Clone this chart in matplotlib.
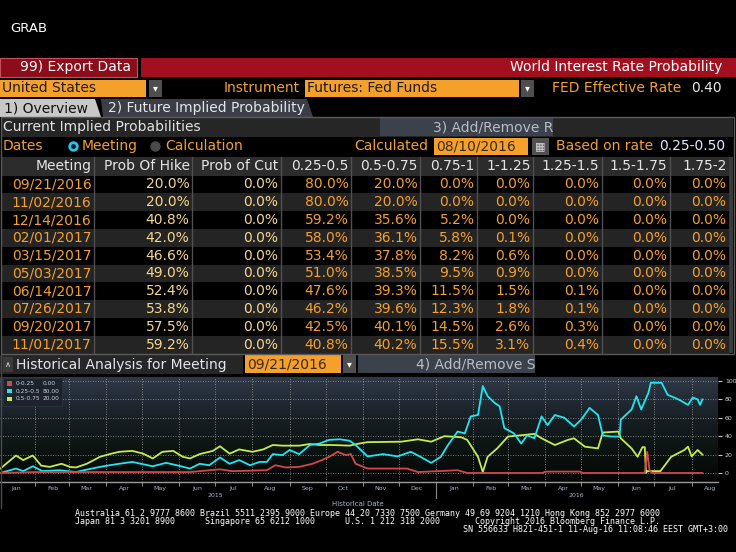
import matplotlib
matplotlib.use('Agg')
import matplotlib.pyplot as plt
import matplotlib.dates as mdates
import matplotlib.transforms as mtransforms
import numpy as np
import pandas as pd
from matplotlib.patches import Rectangle, Polygon
from matplotlib.lines import Line2D
from matplotlib.colors import LinearSegmentedColormap

# current implied probabilities, calculated 08/10/2016
meetings = ['09/21/2016', '11/02/2016', '12/14/2016', '02/01/2017', '03/15/2017',
            '05/03/2017', '06/14/2017', '07/26/2017', '09/20/2017', '11/01/2017']
col_heads = ['Meeting', 'Prob Of Hike', 'Prob of Cut', '0.25-0.5', '0.5-0.75',
             '0.75-1', '1-1.25', '1.25-1.5', '1.5-1.75', '1.75-2']
prob_hike = [20.0, 20.0, 40.8, 42.0, 46.6, 49.0, 52.4, 53.8, 57.5, 59.2]
prob_cut = [0.0, 0.0, 0.0, 0.0, 0.0, 0.0, 0.0, 0.0, 0.0, 0.0]
p_025_05 = [80.0, 80.0, 59.2, 58.0, 53.4, 51.0, 47.6, 46.2, 42.5, 40.8]
p_05_075 = [20.0, 20.0, 35.6, 36.1, 37.8, 38.5, 39.3, 39.6, 40.1, 40.2]
p_075_1 = [0.0, 0.0, 5.2, 5.8, 8.2, 9.5, 11.5, 12.3, 14.5, 15.5]
p_1_125 = [0.0, 0.0, 0.0, 0.1, 0.6, 0.9, 1.5, 1.8, 2.6, 3.1]
p_125_15 = [0.0, 0.0, 0.0, 0.0, 0.0, 0.0, 0.1, 0.1, 0.3, 0.4]
p_15_175 = [0.0, 0.0, 0.0, 0.0, 0.0, 0.0, 0.0, 0.0, 0.0, 0.0]
p_175_2 = [0.0, 0.0, 0.0, 0.0, 0.0, 0.0, 0.0, 0.0, 0.0, 0.0]

# historical analysis for meeting 09/21/2016
red_dates = ['2015-01-03', '2015-02-01', '2015-06-10', '2015-07-05', '2015-07-15',
             '2015-08-13', '2015-08-20', '2015-08-29', '2015-09-09', '2015-09-20',
             '2015-09-28', '2015-10-04', '2015-10-11', '2015-10-18', '2015-10-22',
             '2015-10-26', '2015-11-05', '2015-12-08', '2015-12-17', '2016-01-19',
             '2016-01-27', '2016-03-30', '2016-04-01', '2016-04-30', '2016-05-02',
             '2016-06-23', '2016-06-25', '2016-06-27', '2016-06-29', '2016-08-10']
red_vals = [0, 1, 1, 4, 2, 3, 8.4, 6, 6.6, 10, 14, 17.6, 23, 19.4, 20.5,
            10, 4.8, 4.8, 1, 3, 0, 0, 1.5, 1.5, 0, 0, 23, 3, 0, 0]

cyan_dates = ['2015-01-03', '2015-01-16', '2015-01-22', '2015-01-30', '2015-02-07',
              '2015-02-21', '2015-03-07', '2015-03-16', '2015-03-27', '2015-04-04',
              '2015-04-12', '2015-04-23', '2015-05-02', '2015-05-10', '2015-05-21',
              '2015-05-30', '2015-06-10', '2015-06-18', '2015-06-26', '2015-07-05',
              '2015-07-13', '2015-07-21', '2015-07-30', '2015-08-07', '2015-08-13',
              '2015-08-18', '2015-08-26', '2015-09-01', '2015-09-09', '2015-09-18',
              '2015-09-26', '2015-10-04', '2015-10-13', '2015-10-21', '2015-10-26',
              '2015-11-05', '2015-11-18', '2015-11-30', '2015-12-11', '2015-12-19',
              '2015-12-28', '2016-01-05', '2016-01-11', '2016-01-19', '2016-01-25',
              '2016-01-30', '2016-02-05', '2016-02-09', '2016-02-13', '2016-02-19',
              '2016-02-23', '2016-02-27', '2016-03-06', '2016-03-12', '2016-03-17',
              '2016-03-23', '2016-03-29', '2016-04-03', '2016-04-09', '2016-04-17',
              '2016-04-25', '2016-05-01', '2016-05-08', '2016-05-15', '2016-05-19',
              '2016-05-26', '2016-06-02', '2016-06-03', '2016-06-12', '2016-06-16',
              '2016-06-20', '2016-06-26', '2016-06-28', '2016-07-07', '2016-07-12',
              '2016-07-21', '2016-07-29', '2016-08-02', '2016-08-06', '2016-08-08',
              '2016-08-10']
cyan_vals = [0, 4.8, 2, 7.3, 2, 3, 1, 3.7, 6.6, 8.4,
             10, 12, 9.5, 7.3, 11, 8.4, 4.8, 10, 8.4, 16.8,
             10, 14, 8.4, 12, 12, 20.5, 19.4, 25, 20.5, 30.4,
             32, 36, 36.6, 35, 30.4, 18, 20.5, 18, 23, 17.6,
             11, 17.6, 30.4, 45, 43, 61.5, 63, 94.5, 83.5, 76,
             72.5, 48.7, 43, 32, 41, 37.7, 61.5, 52, 63, 60,
             50.5, 58, 70.7, 63, 41, 39.6, 39.6, 58, 69, 83.5,
             69, 87, 98, 98, 85, 80, 74, 82, 80, 74, 80]

green_dates = ['2015-01-03', '2015-01-16', '2015-01-22', '2015-01-30', '2015-02-06',
               '2015-02-13', '2015-02-23', '2015-03-02', '2015-03-07', '2015-03-16',
               '2015-03-27', '2015-04-04', '2015-04-12', '2015-04-23', '2015-05-02',
               '2015-05-10', '2015-05-18', '2015-05-27', '2015-06-04', '2015-06-10',
               '2015-06-18', '2015-06-29', '2015-07-05', '2015-07-13', '2015-07-21',
               '2015-08-01', '2015-08-10', '2015-08-18', '2015-08-26', '2015-09-09',
               '2015-09-18', '2015-09-26', '2015-10-07', '2015-10-21', '2015-10-29',
               '2015-11-05', '2015-12-03', '2015-12-17', '2015-12-28', '2016-01-08',
               '2016-01-22', '2016-01-27', '2016-02-05', '2016-02-09', '2016-02-13',
               '2016-02-21', '2016-03-01', '2016-03-12', '2016-03-23', '2016-03-29',
               '2016-04-09', '2016-04-20', '2016-04-25', '2016-05-04', '2016-05-15',
               '2016-05-19', '2016-06-01', '2016-06-03', '2016-06-12', '2016-06-17',
               '2016-06-21', '2016-06-23', '2016-06-24', '2016-06-25', '2016-07-06',
               '2016-07-15', '2016-07-26', '2016-07-29', '2016-08-01', '2016-08-06',
               '2016-08-10']
green_vals = [4.8, 19, 14, 19, 8, 6.6, 10, 6.6, 6, 10,
              17.6, 20.5, 23, 24, 21, 15.8, 23, 24, 17.6, 15.8,
              20.5, 24, 29, 21, 25.6, 23, 25.6, 30.4, 29.7, 29.7,
              31.5, 30.4, 30.4, 29.7, 32, 33.5, 34, 36.6, 34, 40,
              38.8, 36, 17.6, 1, 17.6, 26.7, 39.6, 41, 42.5, 37.7,
              30.4, 36, 37.7, 28.6, 26.7, 44, 45, 37.7, 26.7, 17.6,
              28, 28, 0, 2, 2, 17.6, 25, 28.6, 18, 25, 20]

ORANGE = '#f5a02a'
PALE = '#f6d68c'
W, H = 736, 552
FS = 10

fig = plt.figure(figsize=(W / 100, H / 100), dpi=100, facecolor='black')


def fx(x):
    return x / W


def fy(y):
    return 1 - y / H


def box(x0, y0, x1, y1, fc, ec='none', lw=0, z=1):
    fig.add_artist(Rectangle((fx(x0), fy(y1)), (x1 - x0) / W, (y1 - y0) / H,
                             transform=fig.transFigure, facecolor=fc,
                             edgecolor=ec, linewidth=lw, zorder=z))


def txt(x, y, s, color, size=FS, ha='left', family='DejaVu Sans', z=3):
    fig.text(fx(x), fy(y), s, color=color, fontsize=size, ha=ha,
             va='center', family=family, zorder=z)


def line(x0, y0, x1, y1, color, lw=1.0, z=2):
    fig.add_artist(Line2D([fx(x0), fx(x1)], [fy(y0), fy(y1)], color=color,
                          lw=lw, transform=fig.transFigure, zorder=z))


def dropdown(x0, y0, x1, y1):
    box(x0, y0, x1, y1, '#4e4e4e')
    txt((x0 + x1) / 2, (y0 + y1) / 2, '\u25be', 'white', size=7, ha='center')


txt(10, 28, 'GRAB', 'white', size=9.5)

# red title bar
box(0, 58, 736, 77, '#a2101f')
box(137, 58, 141, 77, 'black')
box(0, 58, 137, 77, '#8c0c19', ec='#c8505e', lw=0.8)
txt(20, 67.5, '99) Export Data', 'white')
txt(722, 67.5, 'World Interest Rate Probability', 'white', ha='right')

# selector row
box(0, 80, 146, 97, ORANGE)
txt(2, 88.5, 'United States', '#1a1a1a')
dropdown(149, 80, 162, 97)
txt(300, 88.5, 'Instrument', ORANGE, ha='right')
box(305, 80, 519, 97, ORANGE)
txt(307, 88.5, 'Futures: Fed Funds', '#1a1a1a')
dropdown(521, 80, 534, 97)
txt(552, 88.5, 'FED Effective Rate', ORANGE)
txt(722, 88.5, '0.40', '#e8e8e8', ha='right')

# tabs
fig.add_artist(Polygon([(fx(0), fy(99)), (fx(95), fy(99)), (fx(101), fy(117)), (fx(0), fy(117))],
                       closed=True, transform=fig.transFigure, facecolor='#c8c8c8', edgecolor='none'))
fig.add_artist(Polygon([(fx(101), fy(99)), (fx(307), fy(99)), (fx(313), fy(117)), (fx(103), fy(117))],
                       closed=True, transform=fig.transFigure, facecolor='#3b3e46', edgecolor='none'))
txt(4, 108, '1) Overview', '#111111')
txt(108, 108, '2) Future Implied Probability', '#e4e4e4')

# table panel
box(0.5, 117, 733.5, 354, 'none', ec='#5a5a5a', lw=1.0, z=2)
box(1, 118, 733, 137, '#262626')
txt(3, 127.5, 'Current Implied Probabilities', '#e2e2e2')
box(380, 118, 553, 136, '#3c424c')
txt(553, 127.5, '3) Add/Remove R', '#b8bcc4', ha='right')

txt(3, 146.5, 'Dates', ORANGE)
fig.add_artist(Line2D([fx(73)], [fy(146)], marker='o', ms=5.5, mfc='#111111', mec='#25c4f0',
                      mew=2, transform=fig.transFigure))
txt(82, 146, 'Meeting', ORANGE)
fig.add_artist(Line2D([fx(155)], [fy(146)], marker='o', ms=6.5, mfc='#4a4a4a', mec='#4a4a4a',
                      transform=fig.transFigure))
txt(165, 146, 'Calculation', ORANGE)
txt(428, 146.5, 'Calculated', ORANGE, ha='right')
box(434, 138, 528, 155, ORANGE)
txt(436, 146.5, '08/10/2016', '#3a2a12')
box(532, 138, 549, 155, '#505050')
txt(540.5, 146.5, '\u25a6', '#d8d8d8', size=8, ha='center')
txt(556, 146.5, 'Based on rate', ORANGE)
txt(725, 146.5, '0.25-0.50', '#dfe9ff', ha='right')

# table grid
seps = [94, 192, 281, 351, 420, 477, 533, 602, 670, 729]
row_top, row_h = 175.5, 17.8
box(1, 157, 729, 175.5, '#2c2c2c')
for i in range(len(meetings)):
    if i % 2 == 1:
        box(1, row_top + i * row_h, 729, row_top + (i + 1) * row_h, '#242424')
for s in seps[:-1]:
    line(s, 157, s, 353, '#505050', lw=1.0)
box(729, 157, 733, 353, '#3a3a3a')
for j, head in enumerate(col_heads):
    txt(seps[j] - 2.5, 166, head, '#e4e4e4', ha='right')

columns = [prob_hike, prob_cut, p_025_05, p_05_075, p_075_1, p_1_125, p_125_15, p_15_175, p_175_2]
for i, m in enumerate(meetings):
    yc = row_top + (i + 0.5) * row_h
    txt(seps[0] - 2.5, yc, m, ORANGE, ha='right')
    for j, col in enumerate(columns):
        color = PALE if j < 2 else ORANGE
        txt(seps[j + 1] - 2.5, yc, f'{col[i]:.1f}%', color, ha='right')

# historical analysis header
box(0, 355, 243, 374, '#262626')
box(3, 357, 13, 372, '#3a3a3a')
txt(8, 364.5, '\u2227', '#e0e0e0', size=6, ha='center')
txt(16, 364.5, 'Historical Analysis for Meeting', '#dfe6ee')
box(245, 355, 341, 373, ORANGE)
txt(247, 364.5, meetings[0], '#3a2a12')
dropdown(343, 355, 356, 373)
box(358, 355, 535, 373, '#3c424c')
txt(535, 364.5, '4) Add/Remove S', '#b8bcc4', ha='right')
line(0.5, 355, 0.5, 508, '#4a4a4a', lw=1.0)

# chart
ax = fig.add_axes([0, 1 - 482 / H, 718 / W, 105 / H])
cmap = LinearSegmentedColormap.from_list('bbg', [(0, '#2f3947'), (0.45, '#141c20'),
                                                 (0.75, '#0a110e'), (1, '#050505')])
ax.imshow(np.linspace(0, 1, 256).reshape(-1, 1), aspect='auto', cmap=cmap,
          extent=[0, 1, 0, 1], transform=ax.transAxes, zorder=0)

gd = pd.to_datetime(green_dates)
cd = pd.to_datetime(cyan_dates)
rd = pd.to_datetime(red_dates)
ax.plot(gd, green_vals, color='#c4ee46', lw=1.3, zorder=3)
ax.plot(cd, cyan_vals, color='#1ee6f2', lw=1.3, zorder=4)
ax.plot(rd, red_vals, color='#d24848', lw=1.3, zorder=5)

start = pd.Timestamp('2015-01-01') + pd.Timedelta(days=1.67)
end = pd.Timestamp('2015-01-01') + pd.Timedelta(days=600)
ax.set_xlim(start, end)
ax.set_ylim(-9.8, 104.3)

ax.xaxis.set_major_locator(mdates.MonthLocator())
ax.xaxis.set_major_formatter(plt.NullFormatter())
ax.xaxis.set_minor_locator(mdates.MonthLocator(bymonthday=16))
ax.xaxis.set_minor_formatter(mdates.DateFormatter('%b'))
ax.tick_params(axis='x', which='major', length=3, color='#8a8a8a', width=0.8)
ax.tick_params(axis='x', which='minor', length=0, labelsize=4.5, labelcolor='#a8b4c8', pad=3)
ax.yaxis.tick_right()
ax.set_yticks(range(0, 101, 20))
ax.tick_params(axis='y', length=3, color='#c8c8c8', width=0.8, labelsize=4.5,
               labelcolor='#d4d4d4', pad=2)
ax.grid(True, which='major', color='#a0a0a0', lw=0.6, ls=(0, (1, 2)))
for side in ['top', 'left', 'right']:
    ax.spines[side].set_visible(False)
ax.spines['bottom'].set_color('#9a9a9a')
ax.spines['bottom'].set_linewidth(1.0)

trans = mtransforms.blended_transform_factory(ax.transData, ax.transAxes)
for label, mid in [('2015', '2015-07-01'), ('2016', '2016-04-27')]:
    ax.text(mdates.date2num(pd.Timestamp(mid)), -0.125, label, transform=trans,
            ha='center', va='center', fontsize=4.5, color='#a8b4c8', clip_on=False)
jan16 = mdates.date2num(pd.Timestamp('2016-01-01'))
ax.add_line(Line2D([jan16, jan16], [-0.04, -0.15], transform=trans, color='#8a8a8a',
                   lw=0.8, clip_on=False))
txt(358, 504, 'Historical Date', '#a8b4c8', size=5, ha='center')

# legend box
box(3, 378, 62, 406, '#1c232c', ec='#2c3440', lw=0.6, z=6)
legend = [('0-0.25', red_vals[-1], '#d24848'), ('0.25-0.5', cyan_vals[-1], '#1ee6f2'),
          ('0.5-0.75', green_vals[-1], '#c4ee46')]
for k, (name, val, col) in enumerate(legend):
    yy = 383.3 + k * 7.8
    box(7, yy - 2.3, 11.5, yy + 2.3, col, z=7)
    txt(16, yy, name, '#c8d0dc', size=4.2, z=8)
    txt(43, yy, f'{val:.2f}', '#c8d0dc', size=4.2, z=8)

# footer
mono = 'DejaVu Sans Mono'
txt(75, 513, 'Australia 61 2 9777 8600 Brazil 5511 2395 9000 Europe 44 20 7330 7500 '
    'Germany 49 69 9204 1210 Hong Kong 852 2977 6000', 'white', size=6, family=mono)
txt(75, 521, 'Japan 81 3 3201 8900      Singapore 65 6212 1000      U.S. 1 212 318 2000'
    '       Copyright 2016 Bloomberg Finance L.P.', 'white', size=6, family=mono)
txt(728, 529, 'SN 556633 H821-451-1 11-Aug-16 11:08:46 EEST GMT+3:00', 'white',
    size=6, ha='right', family=mono)

fig.savefig('out.png', dpi=100, facecolor='black')
